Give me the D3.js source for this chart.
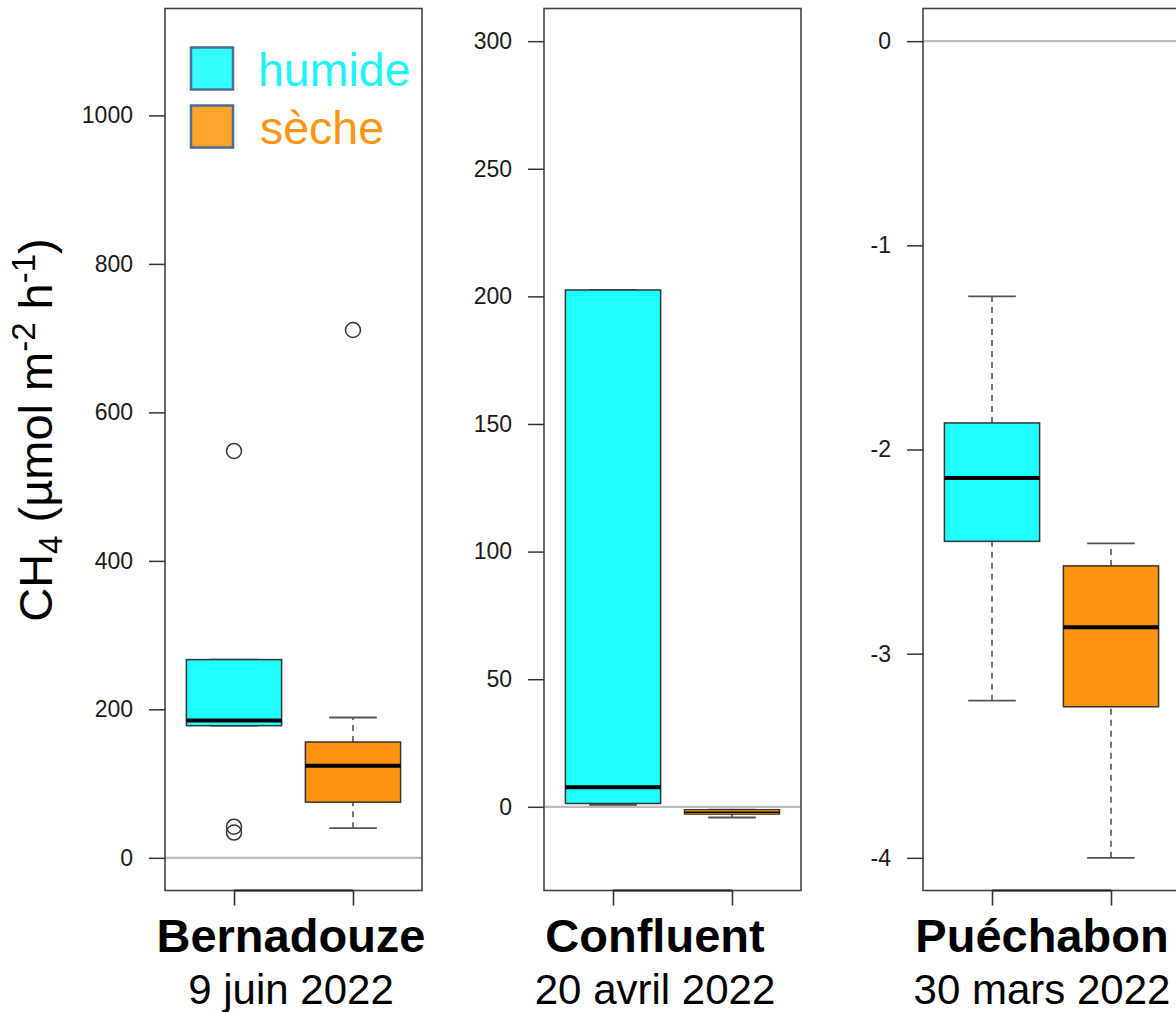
<!DOCTYPE html>
<html>
<head>
<meta charset="utf-8">
<script src="https://cdn.jsdelivr.net/npm/d3@7"></script>
<style>
  html, body { margin: 0; padding: 0; background: #ffffff; }
  svg { display: block; font-family: "Liberation Sans", Arial, sans-serif; }
</style>
</head>
<body>
<svg id="chart" width="1176" height="1012"></svg>
<script>
// ---------- DATA ----------
const sites = ["Bernadouze", "Confluent", "Puéchabon"];
const dates = ["9 juin 2022", "20 avril 2022", "30 mars 2022"];
const groups = ["humide", "sèche"];
// [lower whisker, Q1, median, Q3, upper whisker] per site
const humideStats = [
  [178, 178, 185, 267, 267],
  [0.7, 1.3, 7.7, 202.5, 202.5],
  [-3.23, -2.45, -2.14, -1.87, -1.25]
];
const secheStats = [
  [40, 75, 124, 156, 189],
  [-4.2, -2.9, -2.1, -1.1, -1.1],
  [-4.0, -3.26, -2.87, -2.57, -2.46]
];
const humideOutliers = [[548, 42, 34], [], []];
const secheOutliers = [[711], [], []];
const yLimits = [[0, 1100], [-20, 300], [-4, 0]];
const yTicks = [
  [0, 200, 400, 600, 800, 1000],
  [0, 50, 100, 150, 200, 250, 300],
  [-4, -3, -2, -1, 0]
];

// ---------- STYLE ----------
const fillColors = ["#1FFFFF", "#FF930F"];
const legendFill = ["#33FFFF", "#FFA42E"];
const legendText = ["#1EF4F8", "#FF9512"];
const panelLeft = [165, 544, 923];
const panelW = 257;
const panelTop = 8.5;
const panelBottom = 890.5;
const labelCenters = [291, 655, 1042];

const svg = d3.select("#chart");

sites.forEach((site, i) => {
  const lim = yLimits[i];
  const ext = (lim[1] - lim[0]) * 0.04;
  const y = d3.scaleLinear().domain([lim[0] - ext, lim[1] + ext]).range([panelBottom, panelTop]);
  const x = d3.scaleLinear().domain([0.42, 2.58]).range([panelLeft[i], panelLeft[i] + panelW]);
  const g = svg.append("g");

  const clipId = "clip" + i;
  svg.append("clipPath").attr("id", clipId).append("rect")
    .attr("x", panelLeft[i]).attr("y", panelTop).attr("width", panelW).attr("height", panelBottom - panelTop);

  const stats = [humideStats[i], secheStats[i]];
  const outs = [humideOutliers[i], secheOutliers[i]];
  const bw = 0.8, cw = 0.4;

  stats.forEach((s, k) => {
    const cx = x(k + 1);
    const bg = g.append("g");
    // whiskers (dashed)
    bg.append("line").attr("x1", cx).attr("x2", cx).attr("y1", y(s[0])).attr("y2", y(s[1]))
      .attr("stroke", "#555").attr("stroke-width", 1.6).attr("stroke-dasharray", "6,5");
    bg.append("line").attr("x1", cx).attr("x2", cx).attr("y1", y(s[3])).attr("y2", y(s[4]))
      .attr("stroke", "#555").attr("stroke-width", 1.6).attr("stroke-dasharray", "6,5");
    // caps
    [s[0], s[4]].forEach(v => {
      bg.append("line").attr("x1", x(k + 1 - cw / 2)).attr("x2", x(k + 1 + cw / 2))
        .attr("y1", y(v)).attr("y2", y(v)).attr("stroke", "#555").attr("stroke-width", 1.8);
    });
    // box
    const bh = y(s[1]) - y(s[3]);
    bg.append("rect").attr("x", x(k + 1 - bw / 2)).attr("width", x(k + 1 + bw / 2) - x(k + 1 - bw / 2))
      .attr("y", y(s[3])).attr("height", Math.max(1, bh))
      .attr("fill", fillColors[k]).attr("stroke", "#333").attr("stroke-width", bh < 10 ? 1.2 : 1.5);
    // median
    bg.append("line").attr("x1", x(k + 1 - bw / 2)).attr("x2", x(k + 1 + bw / 2))
      .attr("y1", y(s[2])).attr("y2", y(s[2])).attr("stroke", "#000")
      .attr("stroke-width", Math.min(4, Math.max(1.5, bh / 3)));
    // outliers
    outs[k].forEach(v => {
      bg.append("circle").attr("cx", cx).attr("cy", y(v)).attr("r", 7.5)
        .attr("fill", "none").attr("stroke", "#333").attr("stroke-width", 1.5);
    });
  });

  // zero line
  g.append("line").attr("clip-path", `url(#${clipId})`)
    .attr("x1", panelLeft[i]).attr("x2", panelLeft[i] + panelW)
    .attr("y1", y(0)).attr("y2", y(0)).attr("stroke", "#bdbdbd").attr("stroke-width", 2.2);

  // frame
  g.append("rect").attr("x", panelLeft[i]).attr("y", panelTop)
    .attr("width", panelW).attr("height", panelBottom - panelTop)
    .attr("fill", "none").attr("stroke", "#444").attr("stroke-width", 1.6);

  // y axis
  const yAxis = d3.axisLeft(y).tickValues(yTicks[i]).tickSize(16).tickPadding(16).tickFormat(d3.format("d"));
  const ya = g.append("g").attr("transform", `translate(${panelLeft[i]},0)`).call(yAxis);
  ya.select(".domain").remove();
  ya.selectAll(".tick line").attr("stroke", "#333").attr("stroke-width", 1.5);
  ya.selectAll(".tick text").attr("font-size", 23).attr("fill", "#1a1a1a")
    .attr("font-family", "'Liberation Sans', Arial, sans-serif")
    .text(d => d < 0 ? "-" + Math.abs(d) : d);

  // x axis (ticks only)
  const xAxis = d3.axisBottom(x).tickValues([1, 2]).tickSize(15).tickFormat("");
  const xa = g.append("g").attr("transform", `translate(0,${panelBottom})`).call(xAxis);
  xa.select(".domain").attr("d", `M${x(1)},0H${x(2)}`).attr("stroke", "#222").attr("stroke-width", 2);
  xa.selectAll(".tick line").attr("stroke", "#333").attr("stroke-width", 1.6);

  // site labels
  svg.append("text").attr("x", labelCenters[i]).attr("y", 952).attr("text-anchor", "middle")
    .attr("font-size", 47).attr("font-weight", "bold").attr("fill", "#000").text(site);
  svg.append("text").attr("x", labelCenters[i]).attr("y", 1004).attr("text-anchor", "middle")
    .attr("font-size", 42).attr("fill", "#000").text(dates[i]);
});

// legend
const legendY = [47.5, 105.5];
groups.forEach((gname, k) => {
  svg.append("rect").attr("x", 191).attr("y", legendY[k]).attr("width", 42).attr("height", 42)
    .attr("fill", legendFill[k]).attr("stroke", "#4A6F96").attr("stroke-width", 2.5);
  svg.append("text").attr("x", k === 0 ? 258 : 260).attr("y", legendY[k] + 38.5)
    .attr("font-size", 46.5).attr("fill", legendText[k]).text(gname);
});

// y axis title
const yt = svg.append("text").attr("transform", "translate(52,430) rotate(-90)")
  .attr("text-anchor", "middle").attr("font-size", 47).attr("fill", "#000");
yt.append("tspan").text("CH");
yt.append("tspan").attr("font-size", 33).attr("dy", 10).text("4");
yt.append("tspan").attr("dy", -10).text(" (\u00B5mol m");
yt.append("tspan").attr("font-size", 33).attr("dy", -17).text("-2");
yt.append("tspan").attr("dy", 17).text(" h");
yt.append("tspan").attr("font-size", 33).attr("dy", -17).text("-1");
yt.append("tspan").attr("dy", 17).text(")");
</script>
</body>
</html>
